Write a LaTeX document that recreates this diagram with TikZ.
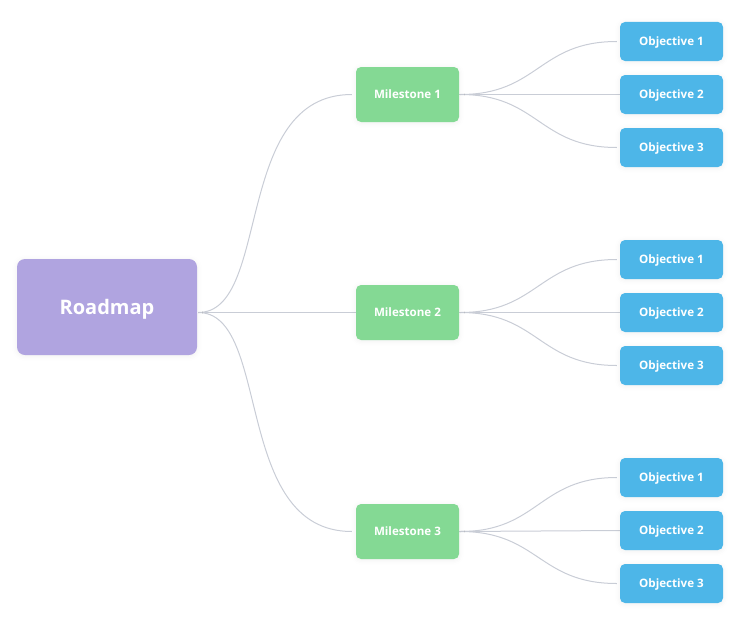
\documentclass[tikz,border=0pt]{standalone}
\usepackage{fontspec}
\setmainfont{Open Sans}
\usetikzlibrary{calc,backgrounds,shadows.blur}
\definecolor{rootc}{HTML}{B0A4E0}
\definecolor{milec}{HTML}{84D994}
\definecolor{objc}{HTML}{4DB6E8}
\definecolor{linkc}{HTML}{C9CDD6}
\tikzset{
  box/.style={rectangle, draw=none, text=white, inner sep=0pt,
    blur shadow={shadow xshift=0pt, shadow yshift=-1pt, shadow blur radius=5pt, shadow opacity=6}},
  rootbox/.style={box, fill=rootc, minimum width=180pt, minimum height=96pt, rounded corners=8pt,
    font=\fontsize{20}{24}\selectfont\bfseries, text height=14.3pt, text depth=0pt},
  milebox/.style={box, fill=milec, minimum width=103pt, minimum height=55pt, rounded corners=5pt,
    font=\fontsize{11.6}{14}\selectfont\bfseries, text height=8.3pt, text depth=0pt},
  objbox/.style={box, fill=objc, minimum width=103pt, minimum height=39pt, rounded corners=5pt,
    font=\fontsize{11.6}{14}\selectfont\bfseries, text height=8.3pt, text depth=0pt},
  link/.style={draw=linkc, line width=1pt}
}
% root -> milestone links: asymmetric S curve
\newcommand{\rootlink}[2]{%
  \draw[link] let \p1=(#1), \p2=(#2) in (\p1) .. controls ({\x1+0.48*(\x2-\x1)},\y1) and ({\x2-0.78*(\x2-\x1)},\y2) .. (\p2);}
% milestone -> objective links: symmetric S curve
\newcommand{\leaflink}[2]{%
  \draw[link] let \p1=(#1), \p2=(#2) in (\p1) .. controls ({(\x1+\x2)/2},\y1) and ({(\x1+\x2)/2},\y2) .. (\p2);}
\begin{document}
\begin{tikzpicture}[x=1pt,y=-1pt]
\useasboundingbox (0,0) rectangle (746,626);
\node[rootbox] (R) at (107,307) {Roadmap};
\node[milebox] (M1) at (407.5,94.5) {Milestone 1};
\node[milebox] (M2) at (407.5,312.5) {Milestone 2};
\node[milebox] (M3) at (407.5,531.5) {Milestone 3};
\node[objbox] (O11) at (671.5,41.5) {Objective 1};
\node[objbox] (O12) at (671.5,94.5) {Objective 2};
\node[objbox] (O13) at (671.5,147.5) {Objective 3};
\node[objbox] (O21) at (671.5,259.5) {Objective 1};
\node[objbox] (O22) at (671.5,312.5) {Objective 2};
\node[objbox] (O23) at (671.5,365.5) {Objective 3};
\node[objbox] (O31) at (671.5,477.5) {Objective 1};
\node[objbox] (O32) at (671.5,530.5) {Objective 2};
\node[objbox] (O33) at (671.5,583.5) {Objective 3};
\coordinate (RS) at ([xshift=1pt]R.east |- M2.west);
\coordinate (E1) at ([xshift=-4pt]M1.west);
\coordinate (E2) at ([xshift=-4pt]M2.west);
\coordinate (E3) at ([xshift=-4pt]M3.west);
\begin{scope}[on background layer]
\rootlink{RS}{E1}
\draw[link] (RS) -- (M2.west);
\rootlink{RS}{E3}
\leaflink{[xshift=1pt]M1.east}{[xshift=-3pt]O11.west}
\draw[link] (M1.east) -- (O12.west);
\leaflink{[xshift=1pt]M1.east}{[xshift=-3pt]O13.west}
\leaflink{[xshift=1pt]M2.east}{[xshift=-3pt]O21.west}
\draw[link] (M2.east) -- (O22.west);
\leaflink{[xshift=1pt]M2.east}{[xshift=-3pt]O23.west}
\leaflink{[xshift=1pt]M3.east}{[xshift=-3pt]O31.west}
\draw[link] (M3.east) -- (O32.west);
\leaflink{[xshift=1pt]M3.east}{[xshift=-3pt]O33.west}
\end{scope}
\end{tikzpicture}
\end{document}
